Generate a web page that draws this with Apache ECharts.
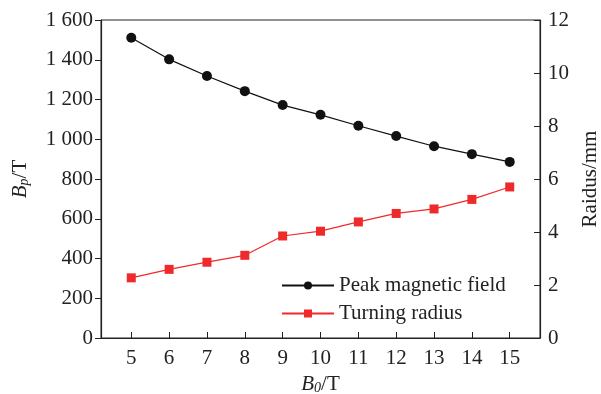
<!DOCTYPE html>
<html>
<head>
<meta charset="utf-8">
<script src="https://cdn.jsdelivr.net/npm/echarts@6/dist/echarts.min.js"></script>
<style>
  html, body { margin: 0; padding: 0; background: #fff; }
  #chart { width: 601px; height: 394px; }
</style>
</head>
<body>
<div id="chart"></div>
<script>
const fieldValues = [5, 6, 7, 8, 9, 10, 11, 12, 13, 14, 15];
const peakField = [1511, 1402, 1318, 1242, 1172, 1123, 1068, 1016, 965, 925, 886];
const turningRadius = [2.27, 2.59, 2.86, 3.12, 3.85, 4.03, 4.38, 4.70, 4.87, 5.23, 5.70];
const seriesNames = ['Peak magnetic field', 'Turning radius'];

const font = 'Liberation Serif';
const ink = '#222';
const fs = 21;

const subRich = {
  i: { fontFamily: font, fontSize: fs, fontStyle: 'italic', color: ink },
  s: { fontFamily: font, fontSize: 14, fontStyle: 'italic', color: ink, verticalAlign: 'bottom', padding: [6, 0, 0, 0] },
  n: { fontFamily: font, fontSize: fs, color: ink }
};

const chart = echarts.init(document.getElementById('chart'));

const option = {
  animation: false,
  textStyle: { fontFamily: font, color: ink },
  grid: {
    left: 101, right: 61, top: 20, bottom: 56,
    outerBoundsMode: 'none',
    containLabel: false,
    show: true, borderColor: ink, borderWidth: 1
  },
  legend: {
    orient: 'vertical',
    left: 276, top: 270,
    itemWidth: 52, itemHeight: 10, itemGap: 7,
    textStyle: { fontFamily: font, fontSize: fs, color: ink },
    data: seriesNames
  },
  xAxis: {
    type: 'value',
    min: 4.2, max: 15.8,
    name: '{i|B}{s|0}{n|/T}',
    nameLocation: 'middle',
    nameGap: 33,
    nameTextStyle: { fontFamily: font, fontSize: fs, color: ink, rich: subRich },
    axisLine: { lineStyle: { color: ink, width: 1.2 } },
    axisTick: { inside: true, length: 6, customValues: fieldValues, lineStyle: { color: ink } },
    axisLabel: { customValues: fieldValues, fontSize: fs, color: ink, fontFamily: font, margin: 10 },
    splitLine: { show: false }
  },
  yAxis: [
    {
      type: 'value',
      min: 0, max: 1600, interval: 200,
      name: '{i|B}{s|p}{n|/T}',
      nameLocation: 'middle',
      nameRotate: 90,
      nameGap: 70,
      nameTextStyle: { fontFamily: font, fontSize: fs, color: ink, rich: subRich },
      axisLine: { show: true, lineStyle: { color: ink, width: 1.2 } },
      axisTick: { show: true, length: 6, lineStyle: { color: ink } },
      axisLabel: {
        fontSize: fs, color: ink, fontFamily: font, margin: 8,
        formatter: (v) => v >= 1000 ? Math.floor(v / 1000) + ' ' + String(v % 1000).padStart(3, '0') : String(v)
      },
      splitLine: { show: false }
    },
    {
      type: 'value',
      min: 0, max: 12, interval: 2,
      name: 'Raidus/mm',
      nameLocation: 'middle',
      nameRotate: 90,
      nameGap: 39,
      nameTextStyle: { fontFamily: font, fontSize: fs, color: ink },
      axisLine: { show: true, lineStyle: { color: ink, width: 1.2 } },
      axisTick: { show: true, inside: true, length: 6, lineStyle: { color: ink } },
      axisLabel: { fontSize: fs, color: ink, fontFamily: font, margin: 8 },
      splitLine: { show: false }
    }
  ],
  series: [
    {
      name: seriesNames[0],
      type: 'line',
      yAxisIndex: 0,
      data: fieldValues.map((x, i) => [x, peakField[i]]),
      symbol: 'circle',
      symbolSize: 10,
      itemStyle: { color: '#111' },
      lineStyle: { color: '#111', width: 1.2 }
    },
    {
      name: seriesNames[1],
      type: 'line',
      yAxisIndex: 1,
      data: fieldValues.map((x, i) => [x, turningRadius[i]]),
      symbol: 'rect',
      symbolSize: 9,
      itemStyle: { color: '#ee2a2a' },
      lineStyle: { color: '#ee2a2a', width: 1.2 }
    }
  ]
};

chart.setOption(option);
</script>
</body>
</html>
